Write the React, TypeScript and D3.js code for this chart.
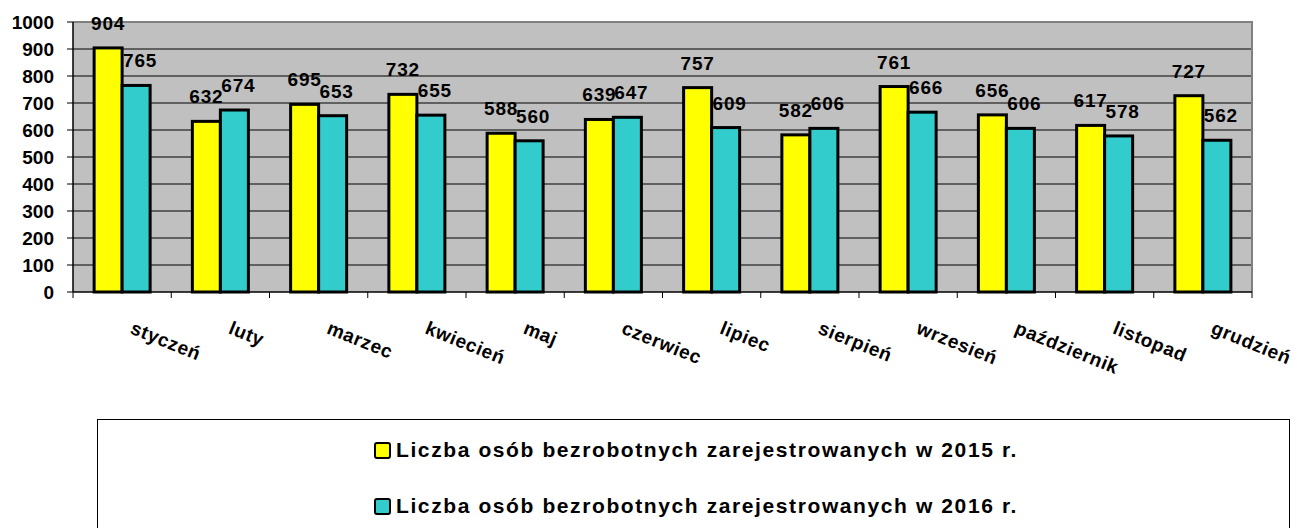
import { useEffect, useRef } from "react";
import * as d3 from "d3";

const months = [
  "styczeń", "luty", "marzec", "kwiecień", "maj", "czerwiec",
  "lipiec", "sierpień", "wrzesień", "październik", "listopad", "grudzień",
];
const values2015 = [904, 632, 695, 732, 588, 639, 757, 582, 761, 656, 617, 727];
const values2016 = [765, 674, 653, 655, 560, 647, 609, 606, 666, 606, 578, 562];
const seriesKeys = ["2015", "2016"];
const seriesNames = [
  "Liczba osób bezrobotnych zarejestrowanych w 2015 r.",
  "Liczba osób bezrobotnych zarejestrowanych w 2016 r.",
];
const yTickValues = [0, 100, 200, 300, 400, 500, 600, 700, 800, 900, 1000];

const colors = ["#ffff00", "#33cccc"];
const FONT = "Arial, 'Liberation Sans', sans-serif";

export default function App() {
  const ref = useRef<SVGSVGElement>(null);

  useEffect(() => {
    document.body.style.margin = "0";
    const svg = d3.select(ref.current);
    svg.selectAll("*").remove();

    const left = 73;
    const right = 1252;
    const top = 22;
    const bottom = 292;
    const groupWidth = 56;

    const x0 = d3.scaleBand().domain(months).range([left, right]).padding(0);
    const x1 = d3.scaleBand().domain(seriesKeys).range([0, groupWidth]);
    const y = d3.scaleLinear().domain([0, 1000]).range([bottom, top]);
    const offset = x0.bandwidth() / 2 - groupWidth / 2;

    // plot background
    svg.append("rect")
      .attr("x", left).attr("y", top)
      .attr("width", right - left).attr("height", bottom - top)
      .attr("fill", "#c0c0c0");

    // gridlines
    svg.append("g")
      .selectAll("line")
      .data(yTickValues.filter((d) => d > 0 && d < 1000))
      .enter()
      .append("line")
      .attr("x1", left).attr("x2", right)
      .attr("y1", (d) => y(d)).attr("y2", (d) => y(d))
      .attr("stroke", "#000").attr("stroke-width", 1);

    // plot border top / right
    svg.append("path")
      .attr("d", `M${left},${top}H${right}V${bottom}`)
      .attr("fill", "none").attr("stroke", "#808080").attr("stroke-width", 2);

    // y axis
    const yAxis = svg.append("g");
    yAxis.append("line")
      .attr("x1", left).attr("x2", left).attr("y1", top).attr("y2", bottom)
      .attr("stroke", "#000").attr("stroke-width", 1.5);
    yAxis.selectAll(".tick")
      .data(yTickValues)
      .enter()
      .append("line")
      .attr("x1", left - 6).attr("x2", left)
      .attr("y1", (d) => y(d)).attr("y2", (d) => y(d))
      .attr("stroke", "#000").attr("stroke-width", 1);
    yAxis.selectAll("text")
      .data(yTickValues)
      .enter()
      .append("text")
      .attr("x", 54)
      .attr("y", (d) => y(d))
      .attr("dy", "0.36em")
      .attr("text-anchor", "end")
      .style("font", `bold 19px ${FONT}`)
      .attr("fill", "#000")
      .text((d) => d);

    // x axis
    const xAxis = svg.append("g");
    xAxis.append("line")
      .attr("x1", left).attr("x2", right).attr("y1", bottom).attr("y2", bottom)
      .attr("stroke", "#000").attr("stroke-width", 1.5);
    const boundaries = months.map((m) => x0(m)!).concat([right]);
    xAxis.selectAll(".tick")
      .data(boundaries)
      .enter()
      .append("line")
      .attr("x1", (d) => d).attr("x2", (d) => d)
      .attr("y1", bottom).attr("y2", bottom + 6)
      .attr("stroke", "#000").attr("stroke-width", 1);
    xAxis.selectAll("text")
      .data(months)
      .enter()
      .append("text")
      .attr("transform", (d) => `translate(${x0(d)! + x0.bandwidth() / 2 + 7},333) rotate(22)`)
      .attr("text-anchor", "start")
      .style("font", `bold 19px ${FONT}`)
      .style("letter-spacing", "0.6px")
      .attr("fill", "#000")
      .text((d) => d);

    // bars
    const data = months.map((m, i) => ({
      month: m,
      vals: [
        { key: "2015", value: values2015[i], color: colors[0], shift: 0 },
        { key: "2016", value: values2016[i], color: colors[1], shift: 4 },
      ],
    }));

    const groups = svg.append("g")
      .selectAll("g")
      .data(data)
      .enter()
      .append("g")
      .attr("transform", (d) => `translate(${x0(d.month)! + offset},0)`);

    groups.selectAll("rect")
      .data((d) => d.vals)
      .enter()
      .append("rect")
      .attr("x", (d) => x1(d.key)!)
      .attr("y", (d) => y(d.value))
      .attr("width", x1.bandwidth())
      .attr("height", (d) => bottom - y(d.value))
      .attr("fill", (d) => d.color)
      .attr("stroke", "#000")
      .attr("stroke-width", 3);

    groups.selectAll("text")
      .data((d) => d.vals)
      .enter()
      .append("text")
      .attr("x", (d) => x1(d.key)! + x1.bandwidth() / 2 + d.shift)
      .attr("y", (d) => y(d.value) - 18)
      .attr("text-anchor", "middle")
      .style("font", `bold 19px ${FONT}`)
      .style("letter-spacing", "0.8px")
      .attr("fill", "#000")
      .text((d) => d.value);

    // legend
    const legend = svg.append("g");
    legend.append("rect")
      .attr("x", 97.5).attr("y", 419.5)
      .attr("width", 1192).attr("height", 200)
      .attr("fill", "#fff").attr("stroke", "#000").attr("stroke-width", 1);
    const items = legend.selectAll(".item")
      .data(seriesNames)
      .enter()
      .append("g")
      .attr("transform", (_, i) => `translate(374,${442 + i * 56})`);
    items.append("rect")
      .attr("x", 1).attr("y", 1)
      .attr("width", 15).attr("height", 15)
      .attr("rx", 2)
      .attr("fill", (_, i) => colors[i])
      .attr("stroke", "#000").attr("stroke-width", 2);
    items.append("text")
      .attr("x", 22).attr("y", 15)
      .style("font", `bold 21px ${FONT}`)
      .style("letter-spacing", "1.6px")
      .attr("fill", "#000")
      .text((d) => d);
  }, []);

  return <svg ref={ref} width={1296} height={528} style={{ display: "block" }} />;
}
